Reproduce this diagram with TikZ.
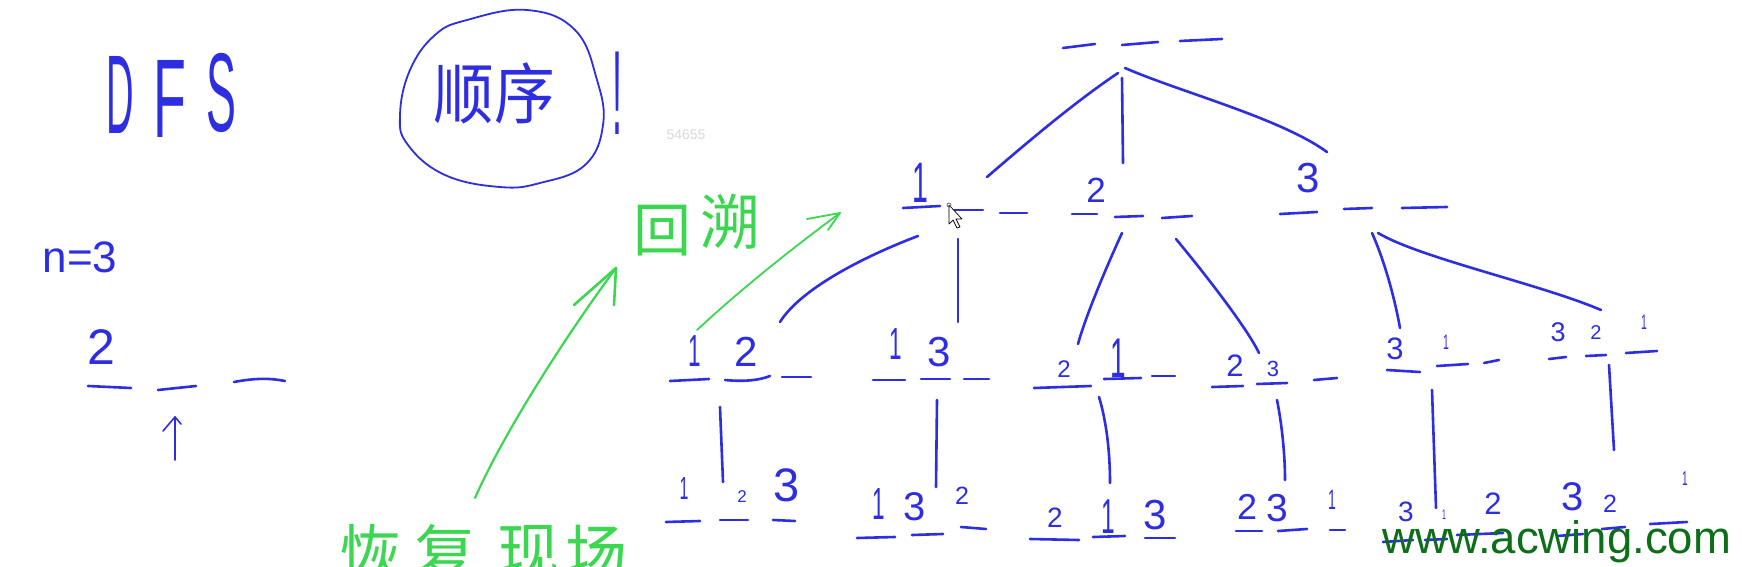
\documentclass[tikz,border=0pt]{standalone}
\usepackage{fontspec}
\usepackage{graphicx}
\setmainfont{Liberation Sans}
\newfontfamily\cjk{Noto Sans CJK SC}
\definecolor{pen}{RGB}{45,45,225}
\definecolor{gpen}{RGB}{60,215,80}
\definecolor{acg}{RGB}{12,110,25}
\newcommand\myfs[1]{\fontsize{#1}{#1}\selectfont}
\newcommand\dg[5]{\node[dig,font={\myfs{#4}}] (#1) at (#2,#3) {#5};}
\newcommand\thinone{\scalebox{0.5}[1]{1}}
\tikzset{
  stroke/.style={pen, line width=2.6, line cap=round, line join=round},
  gstroke/.style={gpen, line width=2.2, line cap=round, line join=round},
  dig/.style={text=pen, inner sep=0pt},
  gtxt/.style={text=gpen, inner sep=0pt},
}
\begin{document}
\begin{tikzpicture}[x=1pt,y=-1pt]
\fill[white] (0,0) rectangle (1742,567);
\useasboundingbox (0,0) rectangle (1742,567);

% ---------- left side ----------
\node[dig,font={\myfs{112}}] (dD) at (120,95) {\scalebox{0.34}[1]{D}};
\node[dig,font={\myfs{112}}] (dF) at (170,99) {\scalebox{0.48}[1]{F}};
\node[dig,font={\myfs{112}}] (dS) at (221,93) {\scalebox{0.4}[1]{S}};

\draw[pen, line width=1.8, line cap=round] plot[smooth cycle, tension=0.7] coordinates
  {(467,20) (527,10) (575,30) (597,80) (603,125) (585,165) (540,183) (500,187) (445,175) (408,145) (400,115) (410,70) (435,35)};
\node[dig,font={\cjk\myfs{66}}] (shunxu) at (494,93) {\scalebox{0.92}[1]{顺序}};
\node[dig,font={\myfs{120}}] (bang) at (617,93) {\scalebox{0.3}[1]{!}};
\node[text=black!15, inner sep=0pt, font={\myfs{14}}] (wm) at (686,135) {54655};

\node[dig,font={\myfs{44}}] (n3) at (80,257) {n=3};
\dg{ld2}{101}{347}{50}{2}
\draw[stroke] (88,386) -- (131,388);
\draw[stroke] (158,390) -- (196,386);
\draw[stroke] (234,382) .. controls (255,378) and (270,378) .. (285,381);
\coordinate (upb) at (175,460);
\coordinate (upt) at (175,417);
\draw[pen, line width=1.6, line cap=round] (upb) -- (upt);
\draw[pen, line width=1.6, line cap=round, line join=round] (163,431) -- (upt) -- (181,424);

% ---------- green annotations ----------
\coordinate (ga1s) at (475,498);
\coordinate (ga1t) at (616,268);
\draw[gstroke] (ga1s) .. controls (505,430) and (570,330) .. (ga1t);
\draw[gstroke, line width=2.6] (574,305) -- (ga1t) -- (614,305);
\draw[gstroke, line width=1.5] (580,300) -- (ga1t);
\node[gtxt,font={\cjk\myfs{58}}] (hui) at (662,231) {回};
\node[gtxt,font={\cjk\myfs{60}}] (su) at (730,222) {溯};
\coordinate (ga2s) at (697,330);
\coordinate (ga2t) at (840,213);
\draw[gstroke, line width=1.8] (ga2s) .. controls (740,290) and (790,250) .. (ga2t);
\draw[gstroke, line width=1.8] (807,219) -- (ga2t) -- (828,230);
\node[gtxt,font={\cjk\myfs{62}}] (hui2) at (370,553) {恢};
\node[gtxt,font={\cjk\myfs{62}}] (fu) at (445,553) {复};
\node[gtxt,font={\cjk\myfs{62}}] (xian) at (528,553) {现};
\node[gtxt,font={\cjk\myfs{62}}] (chang) at (596,553) {场};

% ---------- tree: root ----------
\draw[stroke] (1063,48) -- (1095,44);
\draw[stroke] (1122,45) -- (1158,42);
\draw[stroke] (1180,41) -- (1222,39);
\coordinate (rL) at (1118,73);
\coordinate (rM) at (1122,78);
\coordinate (rR) at (1125,68);
\coordinate (c1) at (987,177);
\coordinate (c2) at (1123,163);
\coordinate (c3) at (1327,152);
\draw[stroke] (rL) .. controls (1075,102) and (1030,140) .. (c1);
\draw[stroke] (rM) -- (c2);
\draw[stroke] (rR) .. controls (1180,92) and (1280,118) .. (c3);

% ---------- level 1 ----------
\dg{a1}{920}{183}{57}{\thinone}
\dg{a2}{1096}{190}{35}{2}
\dg{a3}{1308}{178}{42}{3}
\draw[stroke] (903,208) -- (940,206);
\draw[stroke] (950,210) -- (983,210);
\draw[stroke] (1000,213) -- (1027,213);
\draw[stroke] (1072,214) -- (1097,214);
\draw[stroke] (1115,217) -- (1143,216);
\draw[stroke] (1162,218) -- (1192,216);
\draw[stroke] (1280,214) -- (1317,212);
\draw[stroke] (1344,209) -- (1372,208);
\draw[stroke] (1402,208) -- (1447,207);

% mouse pointer
\draw[black, line width=0.7, fill=white, line join=round]
  (949,205) -- (949,224) -- (953,220) -- (957,228) -- (960,227) -- (956,219) -- (962,219) -- cycle;
\draw[black!70, line width=0.6] (949,205) circle (2);

\coordinate (e1as) at (918,236);
\coordinate (e1ae) at (780,322);
\coordinate (e1bs) at (958,239);
\coordinate (e1be) at (958,322);
\coordinate (e2as) at (1122,233);
\coordinate (e2ae) at (1078,344);
\coordinate (e2bs) at (1176,239);
\coordinate (e2be) at (1259,353);
\coordinate (e3as) at (1372,233);
\coordinate (e3ae) at (1400,328);
\coordinate (e3bs) at (1378,233);
\coordinate (e3be) at (1601,310);
\draw[stroke] (e1as) .. controls (860,258) and (800,290) .. (e1ae);
\draw[stroke] (e1bs) -- (e1be);
\draw[stroke] (e2as) .. controls (1105,270) and (1085,318) .. (e2ae);
\draw[stroke] (e2bs) .. controls (1210,280) and (1248,330) .. (e2be);
\draw[stroke] (e3as) .. controls (1385,262) and (1395,300) .. (e3ae);
\draw[stroke] (e3bs) .. controls (1420,258) and (1540,284) .. (e3be);

% ---------- level 2 ----------
\dg{b11}{695}{351}{45}{\thinone}
\dg{b12}{746}{352}{42}{2}
\draw[stroke] (670,381) -- (709,379);
\draw[stroke] (725,380) .. controls (745,382) and (760,380) .. (770,376);
\draw[stroke] (782,377) -- (811,377);
\dg{b21}{896}{344}{45}{\thinone}
\dg{b22}{939}{352}{42}{3}
\draw[stroke] (873,380) -- (905,380);
\draw[stroke] (921,379) -- (950,379);
\draw[stroke] (964,379) -- (989,379);
\dg{b31}{1064}{369}{24}{2}
\dg{b32}{1118}{358}{56}{\thinone}
\draw[stroke] (1034,388) -- (1091,386);
\draw[stroke] (1104,379) -- (1141,378);
\draw[stroke] (1152,376) -- (1175,376);
\dg{b41}{1235}{366}{31}{2}
\dg{b42}{1273}{369}{22}{3}
\draw[stroke] (1212,387) -- (1243,386);
\draw[stroke] (1257,384) -- (1287,383);
\draw[stroke] (1314,380) -- (1337,378);
\dg{b51}{1395}{349}{31}{3}
\dg{b52}{1446}{342}{21}{\thinone}
\draw[stroke] (1387,370) -- (1420,372);
\draw[stroke] (1437,366) -- (1468,364);
\draw[stroke] (1484,363) -- (1499,360);
\dg{b61}{1558}{332}{27}{3}
\dg{b62}{1596}{333}{20}{2}
\dg{b63}{1644}{322}{21}{\thinone}
\draw[stroke] (1549,359) -- (1566,357);
\draw[stroke] (1586,356) -- (1606,355);
\draw[stroke] (1626,353) -- (1657,351);

% level 2 -> 3
\coordinate (f1s) at (720,407);   \coordinate (f1e) at (723,482);
\coordinate (f2s) at (937,400);   \coordinate (f2e) at (936,487);
\coordinate (f3s) at (1099,397);  \coordinate (f3e) at (1110,483);
\coordinate (f4s) at (1277,400);  \coordinate (f4e) at (1285,480);
\coordinate (f5s) at (1432,390);  \coordinate (f5e) at (1436,508);
\coordinate (f6s) at (1609,365);  \coordinate (f6e) at (1614,450);
\draw[stroke] (f1s) -- (f1e);
\draw[stroke] (f2s) -- (f2e);
\draw[stroke] (f3s) .. controls (1106,420) and (1110,450) .. (f3e);
\draw[stroke] (f4s) .. controls (1282,425) and (1285,455) .. (f4e);
\draw[stroke] (f5s) -- (f5e);
\draw[stroke] (f6s) -- (f6e);

% ---------- level 3 ----------
\dg{c11}{684}{488}{32}{\thinone}
\dg{c12}{742}{497}{17}{2}
\dg{c13}{787}{485}{47}{3}
\draw[stroke] (666,522) -- (700,521);
\draw[stroke] (720,520) -- (748,520);
\draw[stroke] (773,520) -- (795,521);
\dg{c21}{879}{504}{45}{\thinone}
\dg{c22}{915}{507}{40}{3}
\dg{c23}{962}{496}{25}{2}
\draw[stroke] (857,538) -- (895,537);
\draw[stroke] (912,535) -- (943,534);
\draw[stroke] (961,527) -- (986,529);
\dg{c31}{1055}{518}{28}{2}
\dg{c32}{1108}{517}{49}{\thinone}
\dg{c33}{1155}{515}{42}{3}
\draw[stroke] (1030,539) -- (1079,540);
\draw[stroke] (1093,537) -- (1125,536);
\draw[stroke] (1145,538) -- (1175,538);
\dg{c41}{1247}{507}{36}{2}
\dg{c42}{1277}{508}{39}{3}
\dg{c43}{1332}{500}{28}{\thinone}
\draw[stroke] (1236,531) -- (1262,531);
\draw[stroke] (1278,531) -- (1307,529);
\draw[stroke] (1330,530) -- (1345,530);
\dg{c51}{1406}{512}{28}{3}
\dg{c52}{1444}{515}{14}{\thinone}
\dg{c53}{1493}{504}{31}{2}
\draw[stroke] (1383,542) -- (1413,540);
\draw[stroke] (1425,540) -- (1447,539);
\draw[stroke] (1457,535) -- (1503,533);
\dg{c61}{1573}{497}{40}{3}
\dg{c62}{1610}{504}{25}{2}
\dg{c63}{1685}{479}{20}{\thinone}
\draw[stroke] (1557,536) -- (1583,534);
\draw[stroke] (1602,529) -- (1625,527);
\draw[stroke] (1650,524) -- (1687,522);

% watermark
\node[text=acg, inner sep=0pt, anchor=base west, font={\myfs{45.5}}] (site) at (1382,553) {www.acwing.com};
\end{tikzpicture}
\end{document}
